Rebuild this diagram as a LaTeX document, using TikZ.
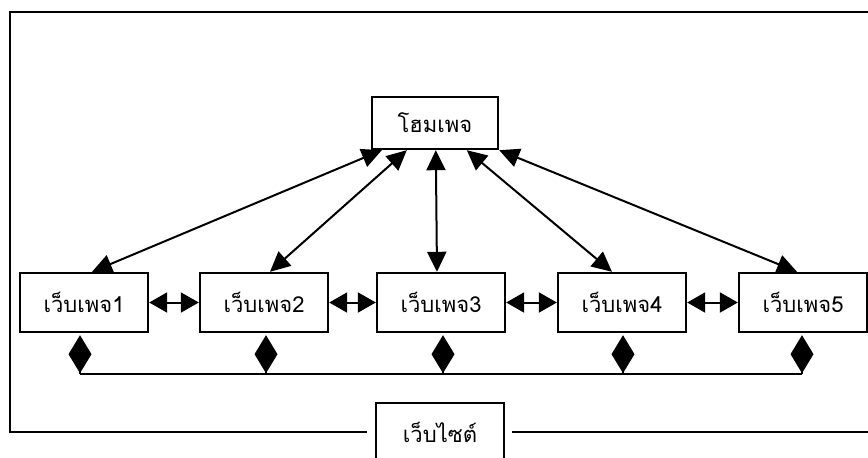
\documentclass[tikz,border=0pt]{standalone}
\usepackage{fontspec}
\newfontfamily\thaifont[Script=Thai]{Loma}
\usetikzlibrary{arrows.meta,calc}

\tikzset{
  pagebox/.style={draw, line width=2.4pt, minimum width=128pt, minimum height=59pt,
    inner sep=0pt, font=\thaifont\fontsize{22}{26}\selectfont},
  homebox/.style={pagebox, minimum width=126pt, minimum height=52pt},
  frameline/.style={line width=2.4pt},
  link/.style={line width=2pt,
    {Triangle[length=20pt,width=19pt]}-{Triangle[length=20pt,width=19pt]}},
  sidelink/.style={line width=2pt,
    {Triangle[length=18pt,width=20pt]}-{Triangle[length=18pt,width=20pt]}},
  buslink/.style={line width=2pt, -{Diamond[length=38pt,width=23pt]}, shorten >=2pt},
  busline/.style={line width=2pt}
}

\begin{document}
\begin{tikzpicture}[x=1pt,y=-1pt]
  \useasboundingbox (0,0) rectangle (868,458);

  % pages
  \node[homebox] (home) at (435,123) {โฮมเพจ};
  \node[pagebox] (w1) at (84,302.5)  {เว็บเพจ1};
  \node[pagebox] (w2) at (264,302.5) {เว็บเพจ2};
  \node[pagebox] (w3) at (441,302.5) {เว็บเพจ3};
  \node[pagebox] (w4) at (622,302.5) {เว็บเพจ4};
  \node[pagebox] (w5) at (803,302.5) {เว็บเพจ5};
  \node[pagebox] (site) at (440,432.5) {เว็บไซต์};

  % site frame, open on the right and broken by the site label
  \draw[frameline] (site.west |- 0,432) ++(-8,0) -- (10,432) -- (10,12) -- (868,12);
  \draw[frameline] (site.east |- 0,432) ++(7,0) -- (868,432);

  % home page links
  \draw[link] ([xshift=11pt]home.south west) -- ([xshift=8pt]w1.north);
  \draw[link] ([xshift=36pt]home.south west) -- ([xshift=6pt]w2.north);
  \draw[link] ([xshift=65pt]home.south west) -- ([xshift=-4pt]w3.north);
  \draw[link] ([xshift=96pt]home.south west) -- ([xshift=-10pt]w4.north);
  \draw[link] (home.south east) -- ([xshift=-6pt]w5.north);

  % neighbour links
  \draw[sidelink] (w1.east) -- (w2.west);
  \draw[sidelink] (w2.east) -- (w3.west);
  \draw[sidelink] (w3.east) -- (w4.west);
  \draw[sidelink] (w4.east) -- (w5.west);

  % common bus below the pages
  \coordinate (b1) at (80,374);
  \coordinate (b2) at (266,374);
  \coordinate (b3) at (443,374);
  \coordinate (b4) at (623,374);
  \coordinate (b5) at (802,374);
  \draw[busline] (b1) -- (b5);
  \draw[buslink] (b1) -- (b1 |- w1.south);
  \draw[buslink] (b2) -- (b2 |- w2.south);
  \draw[buslink] (b3) -- (b3 |- w3.south);
  \draw[buslink] (b4) -- (b4 |- w4.south);
  \draw[buslink] (b5) -- (b5 |- w5.south);
\end{tikzpicture}
\end{document}
